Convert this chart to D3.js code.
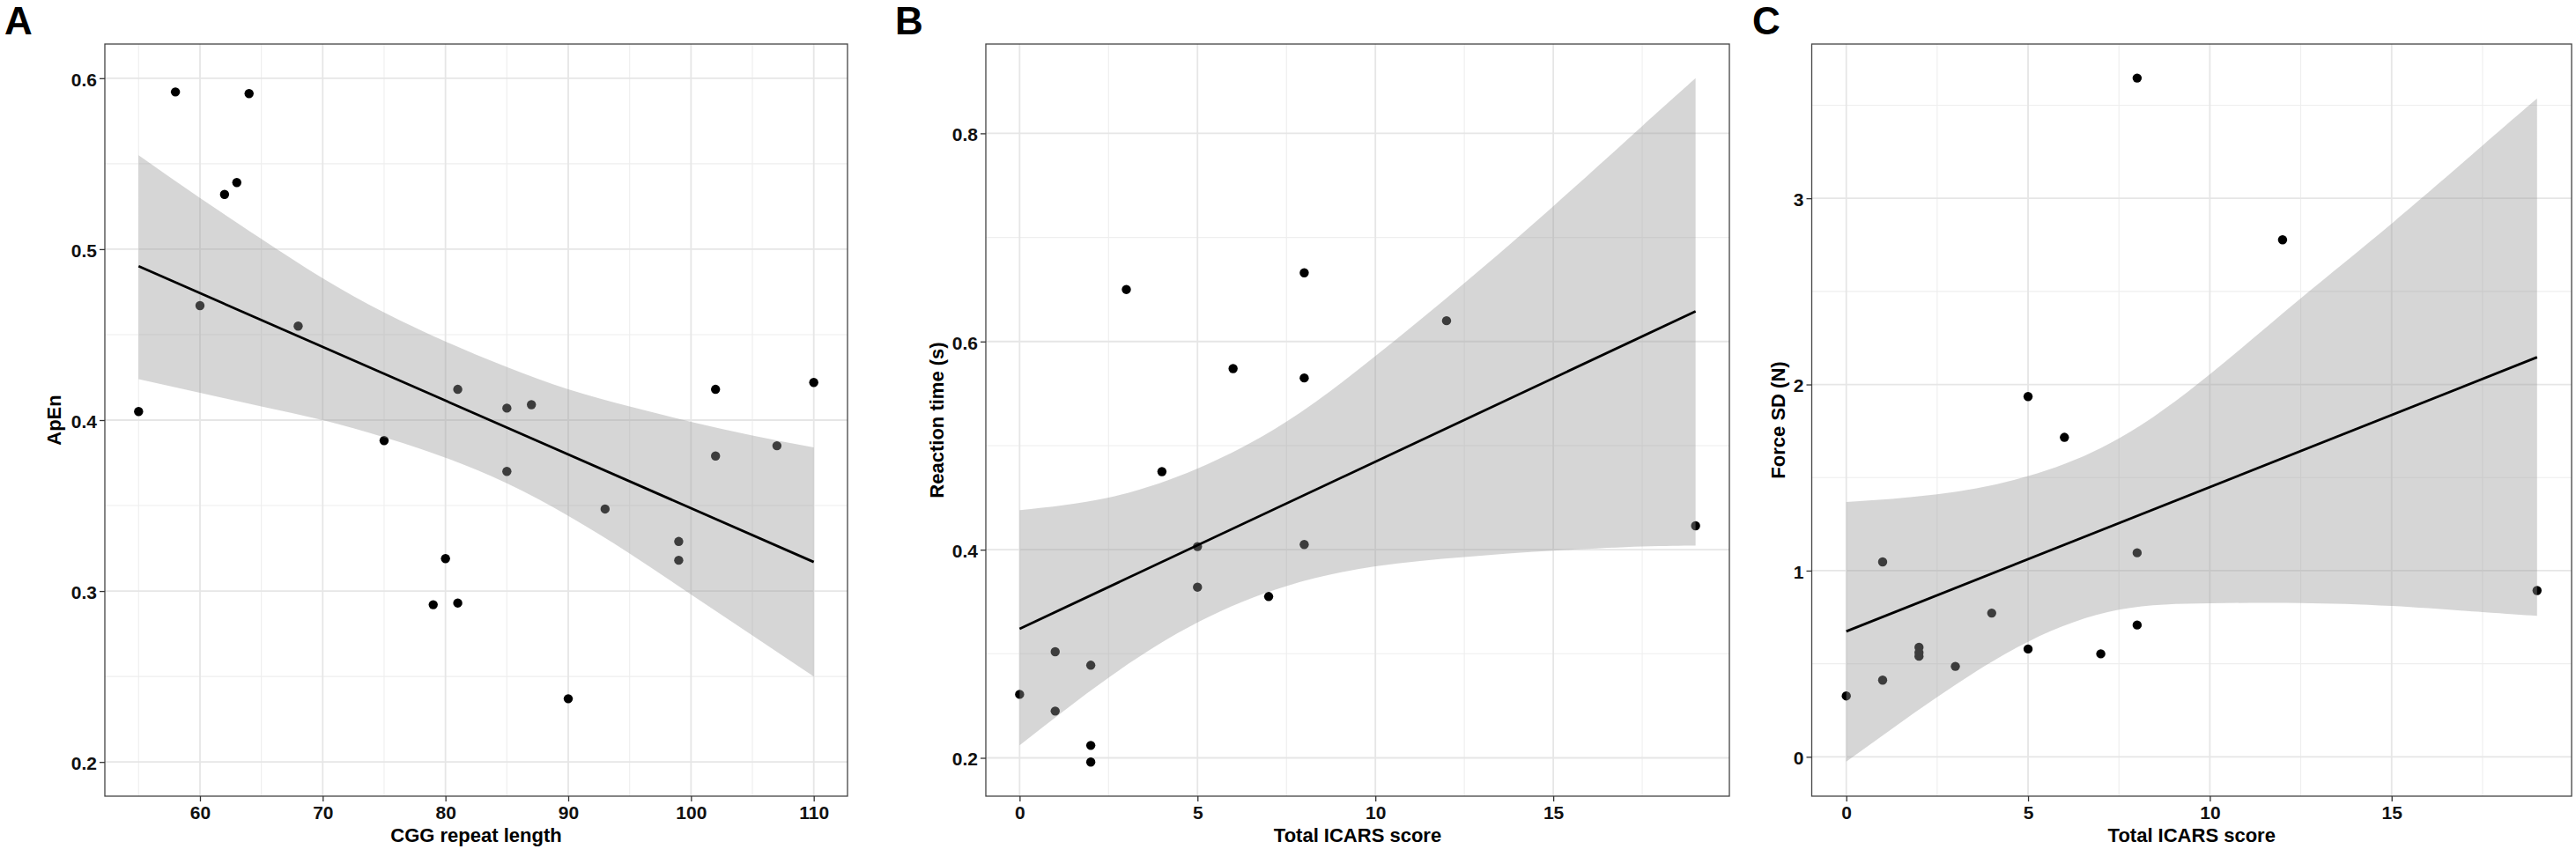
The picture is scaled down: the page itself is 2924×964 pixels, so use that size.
<!DOCTYPE html>
<html>
<head>
<meta charset="utf-8">
<script src="https://cdn.jsdelivr.net/npm/d3@7"></script>
<style>
  html, body { margin: 0; padding: 0; background: #ffffff; }
  svg { display: block; }
  text { font-family: "Liberation Sans", Arial, Helvetica, sans-serif; font-weight: bold; }
</style>
</head>
<body>
<svg id="chart" width="2924" height="964"></svg>
<script>
// ---------------- Panel A data ----------------
const cggLength = [55, 58, 64, 62, 63, 60, 68, 75, 81, 85, 87, 85, 80, 79, 81, 90, 93, 99, 99, 102, 102, 107, 110];
const apEn      = [0.405, 0.592, 0.591, 0.532, 0.539, 0.467, 0.455, 0.388, 0.418, 0.407, 0.409, 0.370, 0.319, 0.292, 0.293, 0.237, 0.348, 0.329, 0.318, 0.418, 0.379, 0.385, 0.422];
const fitAx     = [55, 110];
const fitAy     = [0.490, 0.317];
const bandAx    = [55, 60, 65, 70, 75, 80, 85, 90, 95, 100, 105, 110];
const bandAhi   = [0.555, 0.530, 0.506, 0.483, 0.463, 0.446, 0.431, 0.418, 0.408, 0.399, 0.391, 0.384];
const bandAlo   = [0.424, 0.416, 0.408, 0.400, 0.390, 0.378, 0.363, 0.344, 0.322, 0.298, 0.274, 0.250];
const xTicksA   = [60, 70, 80, 90, 100, 110];
const yTicksA   = [0.2, 0.3, 0.4, 0.5, 0.6];

// ---------------- Panel B data ----------------
const icarsB       = [3, 8, 12, 6, 8, 4, 19, 5, 8, 5, 7, 1, 2, 0, 1, 2, 2];
const reactionTime = [0.650, 0.666, 0.620, 0.574, 0.565, 0.475, 0.423, 0.403, 0.405, 0.364, 0.355, 0.302, 0.289, 0.261, 0.245, 0.212, 0.196];
const fitBx     = [0, 19];
const fitBy     = [0.324, 0.629];
const bandBx    = [0, 2.5, 5, 7.5, 10, 12.5, 15, 17.5, 19];
const bandBhi   = [0.438, 0.450, 0.478, 0.523, 0.586, 0.656, 0.730, 0.807, 0.853];
const bandBlo   = [0.212, 0.277, 0.330, 0.365, 0.384, 0.393, 0.399, 0.403, 0.404];
const xTicksB   = [0, 5, 10, 15];
const yTicksB   = [0.2, 0.4, 0.6, 0.8];

// ---------------- Panel C data ----------------
const icarsC    = [8, 12, 5, 6, 1, 8, 19, 4, 8, 2, 2, 2, 3, 5, 7, 1, 0];
const forceSD   = [3.646, 2.777, 1.935, 1.716, 1.047, 1.096, 0.893, 0.772, 0.708, 0.588, 0.560, 0.540, 0.486, 0.579, 0.553, 0.412, 0.327];
const fitCx     = [0, 19];
const fitCy     = [0.674, 2.146];
const bandCx    = [0, 2.5, 5, 7.5, 10, 12.5, 15, 17.5, 19];
const bandChi   = [1.369, 1.410, 1.508, 1.710, 2.055, 2.462, 2.864, 3.283, 3.536];
const bandClo   = [-0.026, 0.321, 0.618, 0.790, 0.825, 0.826, 0.810, 0.777, 0.757];
const xTicksC   = [0, 5, 10, 15];
const yTicksC   = [0, 1, 2, 3];

// ---------------- Layout ----------------
const panels = [
  { letter: "A", letterX: 5, left: 119, right: 962, top: 50, bottom: 904,
    xDomain: [52.25, 112.75], yDomain: [0.18, 0.62],
    xs: cggLength, ys: apEn, fitX: fitAx, fitY: fitAy,
    bandX: bandAx, bandHi: bandAhi, bandLo: bandAlo,
    xTicks: xTicksA, yTicks: yTicksA, yFmt: d3.format(".1f"),
    xTitle: "CGG repeat length", yTitle: "ApEn", yTitleX: 69 },
  { letter: "B", letterX: 1016, left: 1119, right: 1963, top: 50, bottom: 904,
    xDomain: [-0.95, 19.95], yDomain: [0.1632, 0.8858],
    xs: icarsB, ys: reactionTime, fitX: fitBx, fitY: fitBy,
    bandX: bandBx, bandHi: bandBhi, bandLo: bandBlo,
    xTicks: xTicksB, yTicks: yTicksB, yFmt: d3.format(".1f"),
    xTitle: "Total ICARS score", yTitle: "Reaction time (s)", yTitleX: 1071 },
  { letter: "C", letterX: 1989, left: 2056.5, right: 2919, top: 50, bottom: 904,
    xDomain: [-0.95, 19.95], yDomain: [-0.2114, 3.8285],
    xs: icarsC, ys: forceSD, fitX: fitCx, fitY: fitCy,
    bandX: bandCx, bandHi: bandChi, bandLo: bandClo,
    xTicks: xTicksC, yTicks: yTicksC, yFmt: d3.format("d"),
    xTitle: "Total ICARS score", yTitle: "Force SD (N)", yTitleX: 2026 }
];

const svg = d3.select("#chart");
svg.append("rect").attr("width", 2924).attr("height", 964).attr("fill", "#ffffff");

function midpoints(ticks, domain) {
  const step = ticks[1] - ticks[0];
  const out = [];
  for (let v = ticks[0] - step / 2; v <= domain[1] + 1e-9; v += step) {
    if (v >= domain[0] - 1e-9) out.push(v);
  }
  return out;
}

panels.forEach(p => {
  const x = d3.scaleLinear().domain(p.xDomain).range([p.left, p.right]);
  const y = d3.scaleLinear().domain(p.yDomain).range([p.bottom, p.top]);
  const g = svg.append("g");

  g.append("rect").attr("x", p.left).attr("y", p.top)
    .attr("width", p.right - p.left).attr("height", p.bottom - p.top)
    .attr("fill", "#ffffff");

  // minor grid
  const xMinor = midpoints(p.xTicks, p.xDomain);
  const yMinor = midpoints(p.yTicks, p.yDomain);
  g.selectAll(".vminor").data(xMinor).enter().append("line")
    .attr("x1", d => x(d)).attr("x2", d => x(d)).attr("y1", p.top).attr("y2", p.bottom)
    .attr("stroke", "#eeeeee").attr("stroke-width", 1.1);
  g.selectAll(".hminor").data(yMinor).enter().append("line")
    .attr("y1", d => y(d)).attr("y2", d => y(d)).attr("x1", p.left).attr("x2", p.right)
    .attr("stroke", "#eeeeee").attr("stroke-width", 1.1);
  // major grid
  g.selectAll(".vmajor").data(p.xTicks).enter().append("line")
    .attr("x1", d => x(d)).attr("x2", d => x(d)).attr("y1", p.top).attr("y2", p.bottom)
    .attr("stroke", "#e6e6e6").attr("stroke-width", 1.8);
  g.selectAll(".hmajor").data(p.yTicks).enter().append("line")
    .attr("y1", d => y(d)).attr("y2", d => y(d)).attr("x1", p.left).attr("x2", p.right)
    .attr("stroke", "#e6e6e6").attr("stroke-width", 1.8);

  // points (under the ribbon, as in the original)
  const pts = p.xs.map((v, i) => ({ x: v, y: p.ys[i] }));
  g.selectAll(".pt").data(pts).enter().append("circle")
    .attr("cx", d => x(d.x)).attr("cy", d => y(d.y)).attr("r", 5.2)
    .attr("fill", "#000000");

  // confidence ribbon
  const band = p.bandX.map((v, i) => ({ x: v, lo: p.bandLo[i], hi: p.bandHi[i] }));
  const area = d3.area().x(d => x(d.x)).y0(d => y(d.lo)).y1(d => y(d.hi))
    .curve(d3.curveNatural);
  g.append("path").datum(band).attr("d", area)
    .attr("fill", "#999999").attr("fill-opacity", 0.4);

  // fitted line
  const fit = p.fitX.map((v, i) => ({ x: v, y: p.fitY[i] }));
  g.append("path").datum(fit)
    .attr("d", d3.line().x(d => x(d.x)).y(d => y(d.y)))
    .attr("fill", "none").attr("stroke", "#000000").attr("stroke-width", 2.8);

  // panel border
  g.append("rect").attr("x", p.left).attr("y", p.top)
    .attr("width", p.right - p.left).attr("height", p.bottom - p.top)
    .attr("fill", "none").attr("stroke", "#444444").attr("stroke-width", 1.3);

  // x axis
  const xAxis = d3.axisBottom(x).tickValues(p.xTicks).tickSize(6).tickPadding(5)
    .tickFormat(d3.format("d"));
  const gx = g.append("g").attr("transform", `translate(0,${p.bottom})`).call(xAxis);
  gx.select(".domain").remove();
  gx.selectAll(".tick line").attr("stroke", "#333333").attr("stroke-width", 1.3);
  gx.selectAll(".tick text").attr("font-size", 21).attr("fill", "#111111")
    .attr("font-family", '"Liberation Sans", Arial, sans-serif').attr("font-weight", "bold")
    .attr("dy", "0.71em");

  // y axis
  const yAxis = d3.axisLeft(y).tickValues(p.yTicks).tickSize(6).tickPadding(3)
    .tickFormat(p.yFmt);
  const gy = g.append("g").attr("transform", `translate(${p.left},0)`).call(yAxis);
  gy.select(".domain").remove();
  gy.selectAll(".tick line").attr("stroke", "#333333").attr("stroke-width", 1.3);
  gy.selectAll(".tick text").attr("font-size", 21).attr("fill", "#111111")
    .attr("font-family", '"Liberation Sans", Arial, sans-serif').attr("font-weight", "bold")
    .attr("dy", "0.40em");

  // axis titles
  g.append("text").attr("x", (p.left + p.right) / 2).attr("y", 956)
    .attr("text-anchor", "middle").attr("font-size", 22).attr("fill", "#000000")
    .text(p.xTitle);
  g.append("text")
    .attr("transform", `translate(${p.yTitleX},${(p.top + p.bottom) / 2}) rotate(-90)`)
    .attr("text-anchor", "middle").attr("font-size", 22).attr("fill", "#000000")
    .text(p.yTitle);

  // panel letter
  svg.append("text").attr("x", p.letterX).attr("y", 39)
    .attr("font-size", 44).attr("fill", "#000000").text(p.letter);
});
</script>
</body>
</html>
